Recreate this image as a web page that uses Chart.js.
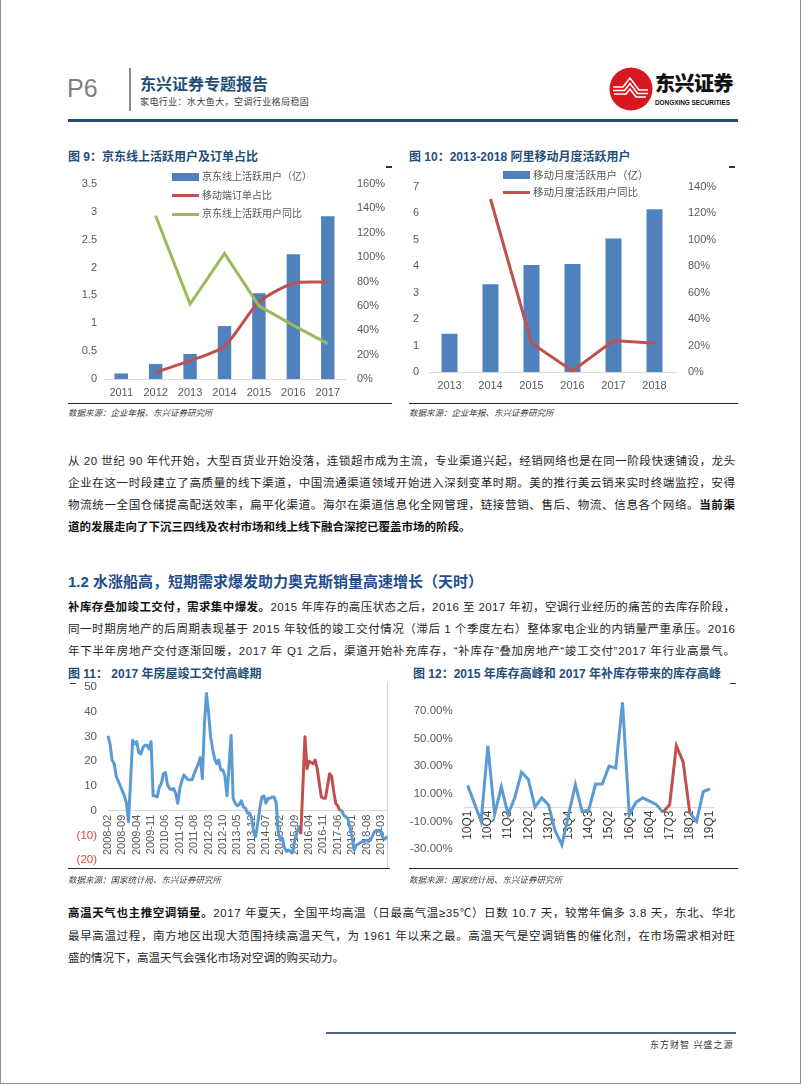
<!DOCTYPE html>
<html><head><meta charset="utf-8">
<script src="https://cdn.jsdelivr.net/npm/chart.js@4.4.1/dist/chart.umd.min.js"></script>
<style>
html,body{margin:0;padding:0;background:#fff;}
body{width:802px;height:1086px;position:relative;overflow:hidden;font-family:"Liberation Sans","Noto Sans CJK SC",sans-serif;}
.abs{position:absolute;}
.frame{position:absolute;left:0;top:-4px;width:801px;height:1088px;border:1.5px solid #8f8f8f;box-sizing:border-box;}
.ln{position:absolute;left:68px;width:667px;height:16px;line-height:16px;font-size:11.5px;color:#262626;white-space:nowrap;}
.ln b{font-weight:700;color:#111;}
.title{position:absolute;font-size:12px;font-weight:700;color:#1f4e79;line-height:16px;white-space:nowrap;}
.src{position:absolute;font-size:8.5px;font-style:italic;color:#404040;line-height:12px;white-space:nowrap;}
.rule{position:absolute;height:1.5px;background:#262626;}
.leg{position:absolute;font-size:10px;color:#595959;line-height:14px;white-space:nowrap;}
.sw{position:absolute;}
canvas{position:absolute;}
</style></head>
<body>
<div class="frame"></div>

<!-- header -->
<div class="abs" style="left:67px;top:73px;font-size:25px;color:#7f7f7f;line-height:30px;">P6</div>
<div class="abs" style="left:129px;top:68px;width:1.5px;height:43px;background:#8a8a8a;"></div>
<div class="abs" style="left:140px;top:75px;font-size:16px;font-weight:700;color:#1f4e79;line-height:20px;white-space:nowrap;">东兴证券专题报告</div>
<div class="abs" style="left:140px;top:96px;font-size:9px;color:#404040;line-height:12px;letter-spacing:0.4px;white-space:nowrap;">家电行业：水大鱼大，空调行业格局稳固</div>
<svg class="abs" style="left:608px;top:66px" width="48" height="48" viewBox="0 0 48 48">
  <circle cx="23" cy="23" r="21.5" fill="#d7191f"/>
  <g stroke="#fff" stroke-width="1.6" fill="none" stroke-linejoin="miter">
    <path d="M5 21 L15 21 L22 12 L31 24 L40 24"/>
    <path d="M5 24.5 L16.5 24.5 L22 17.5 L29.5 27.5 L40 27.5"/>
    <path d="M6 28 L18 28 L22 23 L28 31 L38 31"/>
  </g>
</svg>
<div class="abs" style="left:655px;top:72px;font-size:20px;font-weight:900;color:#111;line-height:24px;white-space:nowrap;letter-spacing:-0.5px;">东兴证券</div>
<div class="abs" style="left:655px;top:99px;font-size:6.4px;font-weight:700;color:#111;line-height:8px;white-space:nowrap;">DONGXING SECURITIES</div>
<div class="abs" style="left:68px;top:118.5px;width:670px;height:3px;background:#1f4e79;"></div>

<!-- chart 9 / 10 titles -->
<div class="title" style="left:68px;top:149px;">图 9：京东线上活跃用户及订单占比</div>
<div class="title" style="left:409px;top:149px;">图 10：2013-2018 阿里移动月度活跃用户</div>
<div class="abs" style="left:386px;top:166px;width:6px;height:1.5px;background:#333;"></div>
<div class="abs" style="left:729px;top:166px;width:6px;height:1.5px;background:#333;"></div>

<canvas id="c9" width="324" height="232" style="left:68px;top:168px;"></canvas>
<canvas id="c10" width="329" height="232" style="left:409px;top:168px;"></canvas>
<div id="leg9"></div>
<div id="leg10"></div>

<div class="rule" style="left:68px;top:402.5px;width:324px;"></div>
<div class="rule" style="left:409px;top:402.5px;width:329px;"></div>
<div class="src" style="left:68px;top:407px;">数据来源：企业年报、东兴证券研究所</div>
<div class="src" style="left:409px;top:407px;">数据来源：企业年报、东兴证券研究所</div>

<!-- paragraph 1 -->
<div class="ln j" style="top:453px;"><span>从 20 世纪 90 年代开始，大型百货业开始没落，连锁超市成为主流，专业渠道兴起，经销网络也是在同一阶段快速铺设，龙头</span></div>
<div class="ln j" style="top:475px;"><span>企业在这一时段建立了高质量的线下渠道，中国流通渠道领域开始进入深刻变革时期。美的推行美云销来实时终端监控，安得</span></div>
<div class="ln j" style="top:497px;"><span>物流统一全国仓储提高配送效率，扁平化渠道。海尔在渠道信息化全网管理，链接营销、售后、物流、信息各个网络。<b>当前渠</b></span></div>
<div class="ln" style="top:519px;"><span><b>道的发展走向了下沉三四线及农村市场和线上线下融合深挖已覆盖市场的阶段。</b></span></div>

<div class="abs" style="left:68px;top:572px;font-size:15px;font-weight:700;color:#1f4e8c;line-height:20px;white-space:nowrap;">1.2 水涨船高，短期需求爆发助力奥克斯销量高速增长（天时）</div>

<!-- paragraph 2 -->
<div class="ln j" style="top:599px;"><span><b>补库存叠加竣工交付，需求集中爆发。</b>2015 年库存的高压状态之后，2016 至 2017 年初，空调行业经历的痛苦的去库存阶段，</span></div>
<div class="ln j" style="top:621px;"><span>同一时期房地产的后周期表现基于 2015 年较低的竣工交付情况（滞后 1 个季度左右）整体家电企业的内销量严重承压。2016</span></div>
<div class="ln j" style="top:643px;"><span>年下半年房地产交付逐渐回暖，2017 年 Q1 之后，渠道开始补充库存，“补库存”叠加房地产“竣工交付”2017 年行业高景气。</span></div>

<!-- chart 11 / 12 titles -->
<div class="title" style="left:68px;top:666px;">图 11： 2017 年房屋竣工交付高峰期</div>
<div class="title" style="left:413px;top:666px;">图 12：2015 年库存高峰和 2017 年补库存带来的库存高峰</div>
<div class="abs" style="left:70px;top:682.5px;width:6px;height:1.5px;background:#333;"></div>
<div class="abs" style="left:730px;top:682.5px;width:6px;height:1.5px;background:#333;"></div>
<div class="abs" style="left:387px;top:683px;width:1px;height:185px;background:#cfcfcf;"></div>

<canvas id="c11" width="322" height="190" style="left:68px;top:680px;"></canvas>
<canvas id="c12" width="329" height="190" style="left:409px;top:680px;"></canvas>

<div class="rule" style="left:68px;top:867.5px;width:322px;"></div>
<div class="rule" style="left:409px;top:867.5px;width:329px;"></div>
<div class="src" style="left:68px;top:874px;">数据来源：国家统计局、东兴证券研究所</div>
<div class="src" style="left:409px;top:874px;">数据来源：国家统计局、东兴证券研究所</div>

<!-- paragraph 3 -->
<div class="ln j" style="top:905px;"><span><b>高温天气也主推空调销量。</b>2017 年夏天，全国平均高温（日最高气温≥35℃）日数 10.7 天，较常年偏多 3.8 天，东北、华北</span></div>
<div class="ln j" style="top:928px;"><span>最早高温过程，南方地区出现大范围持续高温天气，为 1961 年以来之最。高温天气是空调销售的催化剂，在市场需求相对旺</span></div>
<div class="ln" style="top:950px;"><span>盛的情况下，高温天气会强化市场对空调的购买动力。</span></div>

<!-- footer -->
<div class="abs" style="left:326px;top:1032px;width:410px;height:2px;background:#4a6886;"></div>
<div class="abs" style="left:650px;top:1039px;font-size:9px;color:#333;line-height:12px;letter-spacing:1px;white-space:nowrap;">东方财智 兴盛之源</div>

<script>
// ---------- data ----------
// Figure 9: JD
const jdYears = ['2011','2012','2013','2014','2015','2016','2017'];
const jdSeriesNames = ['京东线上活跃用户（亿）','移动端订单占比','京东线上活跃用户同比'];
const jdActiveUsers = [0.10, 0.27, 0.45, 0.95, 1.54, 2.24, 2.92];
const jdMobileOrderShare = [null, 5.5, 15, 27, 63, 78.5, 79.5];
const jdUserYoy = [null, 134, 61.5, 103, 60, 44, 29];
const jdLeftTicks = [0, 0.5, 1, 1.5, 2, 2.5, 3, 3.5];

// Figure 10: Alibaba
const aliYears = ['2013','2014','2015','2016','2017','2018'];
const aliSeriesNames = ['移动月度活跃用户（亿）','移动月度活跃用户同比'];
const aliMau = [1.45, 3.32, 4.05, 4.08, 5.05, 6.15];
const aliMauYoy = [null, 130.7, 22, 1, 24, 22];

// Figure 11: housing completion yoy (monthly, 2008-02 .. 2019-06)
const houseStart = [2008, 2];
const houseEnd = [2019, 6];
const houseCompletionYoy = [
  30.3, 27, 20.5, 19, 14, 12, 10, 8, 6, 3, -4.5,               // 2008-02..12
  12, 28.5, 27, 28, 23.5, 23, 25.5, 26.5, 26.5, 25, 28, 6,      // 2009
  6, 5.5, 9.5, 11, 15, 15.5, 10.5, 9, 8.5, 9, 7, 3,             // 2010
  9, 12, 14.5, 13.5, 12.5, 12.5, 12.5, 15, 17, 19, 21.5, 13,    // 2011
  35, 47.5, 40, 30, 25, 21, 19, 20.5, 16.5, 16.5, 14, 6,        // 2012
  18, 30.5, 5, 3, 2, 2.5, 4, 1.5, 1, -1, -1, -3,                // 2013
  -8.5, -10.5, -5, 1, 5.5, 6, 3, 5, 5, 5.5, 5.5, 3,             // 2014
  -9, -12, -11, -15, -16.5, -16, -16.5, -17, -12, -9, -6.5, -9.5, // 2015
  10, 30, 17, 20, 19.5, 19, 20.5, 17, 11, 5.5, 5, 5,            // 2016
  10, 15, 14, 8, 3, 2, 0, 0, -2, -2.5, -3.5, -7,                // 2017
  -11, -16, -14, -13.5, -13, -12.5, -12.5, -12, -12.5, -12, -10, -8.5, // 2018
  -8, -8, -8, -11, -11.5, -10.5                                 // 2019-01..06
];
const houseHighlight = ['2015-12', '2017-07'];
const houseTickEvery = 7;
const houseTicks = [-20, -10, 0, 10, 20, 30, 40, 50];

// Figure 12: inventory yoy (quarterly, 10Q1 .. 19Q1)
const invStart = [2010, 1];
const invEnd = [2019, 1];
const inventoryYoy = [
  16, 3, -10, 44.6,       // 2010
  -5, 15, -5, 7,          // 2011
  25.6, 20.5, 0.3, 7,     // 2012
  2, -17, -27, -5,        // 2013
  16.5, -3, -1.5, 17,     // 2014
  17, 30, 28.5, 76,       // 2015
  -5, 3.7, 7, 4.7,        // 2016
  2.3, -3.5, 2, 44.6,     // 2017
  33, -4, -10, 11.6,      // 2018
  13.5                    // 2019
];
const invHighlight = ['17Q2', '18Q2'];
const invTicks = [-30, -10, 10, 30, 50, 70];
const invTickEvery = 3;

// ---------- category builders ----------
function monthLabels(s, e){
  const out=[]; let y=s[0], m=s[1];
  while (y<e[0] || (y===e[0] && m<=e[1])) { out.push(y+'-'+String(m).padStart(2,'0')); m++; if(m>12){m=1;y++;} }
  return out;
}
function quarterLabels(s, e){
  const out=[]; let y=s[0], q=s[1];
  while (y<e[0] || (y===e[0] && q<=e[1])) { out.push(String(y%100).padStart(2,'0')+'Q'+q); q++; if(q>4){q=1;y++;} }
  return out;
}
const houseMonths = monthLabels(houseStart, houseEnd);
const invQuarters = quarterLabels(invStart, invEnd);

// ---------- styles ----------
const BAR='#4F81BD', RED='#C0504D', GREEN='#9BBB59', LBLUE='#5B9BD5', AX='#595959', NEG='#d9463b';
Chart.defaults.font.family = "'Liberation Sans','Noto Sans CJK SC',sans-serif";
function zeroPad(s){ s.paddingTop=0; s.paddingBottom=0; s.paddingLeft=0; s.paddingRight=0; }
const fixW = w => s => { s.width = w; zeroPad(s); };
const fixH = h => s => { s.height = h; zeroPad(s); };
const noGrid = {display:false, drawTicks:false};
const base = {responsive:false, animation:false, devicePixelRatio:1, events:[],
  plugins:{legend:{display:false}, tooltip:{enabled:false}}};
const setTicks = arr => s => { s.ticks = arr.map(v=>({value:v})); };

// ---------- legends (HTML, from series names) ----------
function legend(id, left, top, gap, items){
  const host=document.getElementById(id);
  items.forEach((it,i)=>{
    const y=top+i*gap;
    const sw=document.createElement('div'); sw.className='sw';
    const h = it.bar?8:3;
    sw.style.cssText=`left:${left}px;top:${y-h/2}px;width:27px;height:${h}px;background:${it.color};`;
    const tx=document.createElement('div'); tx.className='leg';
    tx.style.cssText=`left:${left+30}px;top:${y-7}px;font-size:${it.fs}px;`;
    tx.textContent=it.name;
    host.appendChild(sw); host.appendChild(tx);
  });
}
legend('leg9', 172, 177, 18.5, [
  {name:jdSeriesNames[0], color:BAR, bar:true, fs:10},
  {name:jdSeriesNames[1], color:RED, fs:10},
  {name:jdSeriesNames[2], color:GREEN, fs:10}]);
legend('leg10', 503, 175, 17, [
  {name:aliSeriesNames[0], color:BAR, bar:true, fs:10.5},
  {name:aliSeriesNames[1], color:RED, fs:10.5}]);

// ---------- Figure 9 ----------
new Chart(document.getElementById('c9'), {
  type:'bar',
  data:{labels:jdYears, datasets:[
    {type:'line', label:jdSeriesNames[2], data:jdUserYoy, yAxisID:'y1', borderColor:GREEN, borderWidth:3, pointRadius:0, tension:0, order:1},
    {type:'line', label:jdSeriesNames[1], data:jdMobileOrderShare, yAxisID:'y1', borderColor:RED, borderWidth:3, pointRadius:0, tension:0.25, order:2},
    {label:jdSeriesNames[0], data:jdActiveUsers, yAxisID:'y', backgroundColor:BAR, barPercentage:0.39, categoryPercentage:1, order:3}
  ]},
  options:Object.assign({}, base, {
    layout:{padding:{top:16,left:0,right:0,bottom:0}},
    scales:{
      x:{grid:noGrid, border:{color:'#d9d9d9'}, ticks:{color:AX, font:{size:11}, padding:7}, afterFit:fixH(21)},
      y:{position:'left', min:0, max:3.5, afterBuildTicks:setTicks(jdLeftTicks),
         ticks:{color:AX, font:{size:11}, padding:7, callback:v=>String(v)}, grid:noGrid, border:{display:false}, afterFit:fixW(36)},
      y1:{position:'right', min:0, max:160, ticks:{stepSize:20, color:AX, font:{size:11}, padding:12, callback:v=>v+'%'},
         grid:noGrid, border:{display:false}, afterFit:fixW(47)}
    }})
});

// ---------- Figure 10 ----------
new Chart(document.getElementById('c10'), {
  type:'bar',
  data:{labels:aliYears, datasets:[
    {type:'line', label:aliSeriesNames[1], data:aliMauYoy, yAxisID:'y1', borderColor:RED, borderWidth:3, pointRadius:0, tension:0, order:1},
    {label:aliSeriesNames[0], data:aliMau, yAxisID:'y', backgroundColor:BAR, barPercentage:0.39, categoryPercentage:1, order:2}
  ]},
  options:Object.assign({}, base, {
    layout:{padding:{top:18.7,left:0,right:0,bottom:0}},
    scales:{
      x:{grid:noGrid, border:{color:'#d9d9d9'}, ticks:{color:AX, font:{size:11}, padding:7}, afterFit:fixH(27.7)},
      y:{position:'left', min:0, max:7, ticks:{stepSize:1, color:AX, font:{size:11}, padding:10}, grid:noGrid, border:{display:false}, afterFit:fixW(20)},
      y1:{position:'right', min:0, max:140, ticks:{stepSize:20, color:AX, font:{size:11}, padding:13, callback:v=>v+'%'},
         grid:noGrid, border:{display:false}, afterFit:fixW(63)}
    }})
});

// ---------- Figure 11 ----------
const hA = houseMonths.indexOf(houseHighlight[0]), hB = houseMonths.indexOf(houseHighlight[1]);
new Chart(document.getElementById('c11'), {
  type:'line',
  data:{labels:houseMonths, datasets:[{data:houseCompletionYoy, borderColor:LBLUE, borderWidth:3, pointRadius:0, tension:0,
    borderJoinStyle:'round',
    segment:{borderColor:c=> (c.p0DataIndex>=hA && c.p0DataIndex<hB) ? RED : LBLUE}}]},
  options:Object.assign({}, base, {
    layout:{padding:{top:7.3,left:0,right:3,bottom:10}},
    scales:{
      x:{position:{y:0}, offset:false, grid:noGrid, border:{color:'#d9d9d9', width:1},
         ticks:{autoSkip:false, maxRotation:90, minRotation:90, padding:4, color:AX, font:{size:11},
           callback:(v,i)=> i%houseTickEvery===0 ? houseMonths[i] : ''},
         afterFit:zeroPad},
      y:{min:-20, max:50, afterBuildTicks:setTicks(houseTicks),
         ticks:{padding:11, font:{size:11.5},
           color:c=> c.tick && c.tick.value<0 ? NEG : AX,
           callback:v=> v<0 ? '('+(-v)+')' : String(v)},
         grid:noGrid, border:{display:false}, afterFit:fixW(40)}
    }})
});

// ---------- Figure 12 ----------
const qA = invQuarters.indexOf(invHighlight[0]), qB = invQuarters.indexOf(invHighlight[1]);
new Chart(document.getElementById('c12'), {
  type:'line',
  data:{labels:invQuarters, datasets:[{data:inventoryYoy, borderColor:LBLUE, borderWidth:3, pointRadius:0, tension:0,
    segment:{borderColor:c=> (c.p0DataIndex>=qA && c.p0DataIndex<qB) ? RED : LBLUE}}]},
  options:Object.assign({}, base, {
    layout:{padding:{top:16.9,left:0,right:24.6,bottom:21}},
    scales:{
      x:{position:{y:0}, offset:true, grid:noGrid, border:{color:'#d9d9d9', width:1},
         ticks:{autoSkip:false, maxRotation:90, minRotation:90, padding:3, color:'#404040', font:{size:12},
           callback:(v,i)=> i%invTickEvery===0 ? invQuarters[i] : ''},
         afterFit:zeroPad},
      y:{min:-30, max:80, afterBuildTicks:setTicks(invTicks),
         ticks:{padding:11.6, color:AX, font:{size:11.5}, callback:v=> v.toFixed(2)+'%'},
         grid:noGrid, border:{display:false}, afterFit:fixW(55.3)}
    }})
});

// ---------- justify text lines ----------
document.querySelectorAll('.ln.j').forEach(el=>{
  const sp=el.querySelector('span');
  const txt=sp.textContent; const n=[...txt].length;
  const w=sp.getBoundingClientRect().width;
  const ls=(667-w)/(n-1);
  sp.style.letterSpacing=ls+'px';
});
</script>
</body></html>
